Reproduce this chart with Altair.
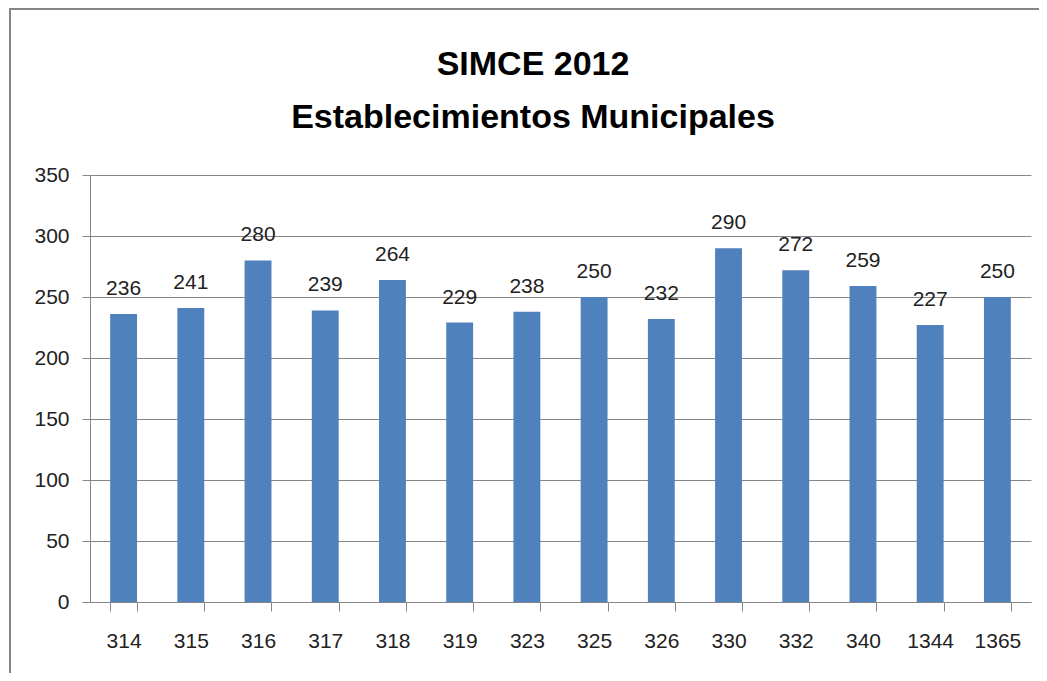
import altair as alt
import pandas as pd

categories = ["314", "315", "316", "317", "318", "319", "323", "325", "326", "330", "332", "340", "1344", "1365"]
values = [236, 241, 280, 239, 264, 229, 238, 250, 232, 290, 272, 259, 227, 250]
y_ticks = [0, 50, 100, 150, 200, 250, 300, 350]
title_lines = ["SIMCE 2012", "Establecimientos Municipales"]

df = pd.DataFrame({"cat": categories, "val": values})
tdf = pd.DataFrame({"t": title_lines, "row": [0, 1]})

FONT = "Liberation Sans, Arial, sans-serif"
BLUE = "#4F81BD"
GRAY = "#868686"

x_enc = alt.X("cat:N", sort=categories, title=None,
              scale=alt.Scale(paddingInner=0.6, paddingOuter=0.3),
              axis=alt.Axis(labelAngle=0, tickBand="extent", tickSize=9, labelPadding=19,
                            labelFontSize=21, labelFont=FONT, labelColor="#222",
                            domainColor=GRAY, tickColor=GRAY, grid=False))
y_enc = alt.Y("val:Q", title=None,
              scale=alt.Scale(domain=[0, 350], nice=False),
              axis=alt.Axis(values=y_ticks, tickSize=8, labelPadding=13,
                            labelFontSize=21, labelFont=FONT, labelColor="#222",
                            domainColor=GRAY, tickColor=GRAY, gridColor=GRAY, gridWidth=1))

base = alt.Chart(df)
bars = base.mark_bar(color=BLUE).encode(x=x_enc, y=y_enc)
labels = base.mark_text(baseline="alphabetic", dy=-19, fontSize=21, font=FONT, color="#222").encode(
    x=alt.X("cat:N", sort=categories), y="val:Q", text="val:Q")

frame_left = base.mark_rule(color=GRAY, strokeWidth=2).encode(
    x=alt.value(-80), y=alt.value(-167), y2=alt.value(520))
frame_top = base.mark_rule(color=GRAY, strokeWidth=2).encode(
    x=alt.value(-80), x2=alt.value(1000), y=alt.value(-166))

title1 = alt.Chart(tdf).transform_filter("datum.row == 0").mark_text(
    font=FONT, fontSize=34, fontWeight="bold", color="#000", align="center", baseline="alphabetic"
).encode(text="t:N", x=alt.value(443), y=alt.value(-100))
title2 = alt.Chart(tdf).transform_filter("datum.row == 1").mark_text(
    font=FONT, fontSize=34, fontWeight="bold", color="#000", align="center", baseline="alphabetic"
).encode(text="t:N", x=alt.value(443), y=alt.value(-47))

chart = alt.layer(frame_left, frame_top, bars, labels, title1, title2).properties(
    width=941, height=427,
    autosize=alt.AutoSizeParams(type="none"),
    padding={"left": 82, "top": 167, "right": 8, "bottom": 71},
).configure_view(stroke=None)

chart.save("out.html", embed_options={"renderer": "svg", "actions": False})
